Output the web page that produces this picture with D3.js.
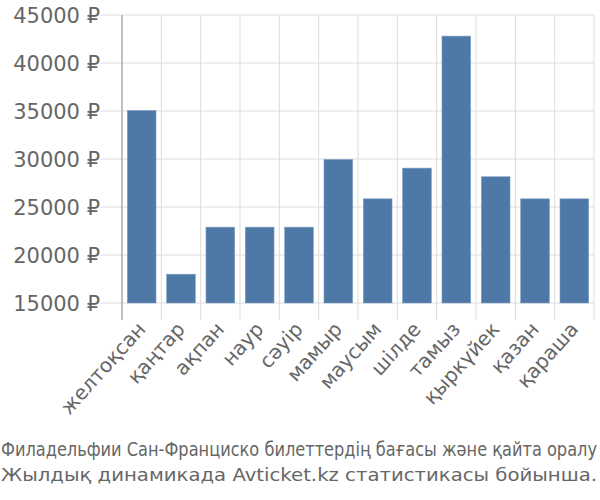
<!DOCTYPE html>
<html><head><meta charset="utf-8">
<script src="https://cdn.jsdelivr.net/npm/d3@7"></script>
<style>body{margin:0;background:#fff}text{font-family:"DejaVu Sans",sans-serif;fill:#666}</style>
</head><body><svg id="c" width="600" height="500"></svg>
<script>
const months = ["желтоқсан","қаңтар","ақпан","наур","сәуір","мамыр","маусым","шілде","тамыз","қыркүйек","қазан","қараша"];
const prices = [35050, 18000, 22900, 22900, 22900, 29950, 25850, 29050, 42800, 28150, 25850, 25850];
const yTicks = [15000, 20000, 25000, 30000, 35000, 40000, 45000];
const titleLines = ["Филадельфии Сан-Франциско билеттердің бағасы және қайта оралу", "Жылдық динамикада Avticket.kz статистикасы бойынша."];

const svg = d3.select("#c");
const mL = 122, mR = 594, mT = 15, mB = 303;
const x = d3.scaleBand().domain(months).range([mL, mR]).paddingInner(0.27).paddingOuter(0.135);
const slot = d3.scaleBand().domain(months).range([mL, mR]).padding(0);
const y = d3.scaleLinear().domain([15000, 45000]).range([mB, mT]);

// horizontal grid
svg.append("g").selectAll("line").data(yTicks).join("line")
  .attr("x1", 100).attr("x2", mR).attr("y1", d => y(d)).attr("y2", d => y(d))
  .attr("stroke", "#ddd").attr("stroke-width", 1);
// vertical grid
const vx = months.map(m => slot(m)).concat([mR]);
svg.append("g").selectAll("line").data(vx.slice(1)).join("line")
  .attr("x1", d => d).attr("x2", d => d).attr("y1", mT).attr("y2", 320)
  .attr("stroke", "#ddd").attr("stroke-width", 1);
// y axis line
svg.append("line").attr("x1", mL).attr("x2", mL).attr("y1", mT).attr("y2", 320)
  .attr("stroke", "#aaa").attr("stroke-width", 1.5);

// bars
svg.append("g").selectAll("rect").data(prices).join("rect")
  .attr("x", (d, i) => x(months[i]))
  .attr("width", x.bandwidth())
  .attr("y", d => y(d))
  .attr("height", d => y(15000) - y(d))
  .attr("fill", "#4e79a7")
  .attr("stroke", "#7f9fc4").attr("stroke-width", 0.6);

// y labels
svg.append("g").selectAll("text").data(yTicks).join("text")
  .attr("x", 100).attr("y", d => y(d)).attr("dy", "0.36em")
  .attr("text-anchor", "end").style("font-size", "21px")
  .text(d => d + " ₽");

// x labels
svg.append("g").selectAll("text").data(months).join("text")
  .attr("transform", m => `translate(${slot(m) + slot.bandwidth() / 2 + 5},330) rotate(-48)`)
  .attr("text-anchor", "end").style("font-size", "20px")
  .text(m => m);

// footer
svg.append("text").attr("x", 1).attr("y", 456).style("font-size", "20px")
  .style("font-family", "'DejaVu Sans Condensed','DejaVu Sans',sans-serif")
  .attr("textLength", 596).attr("lengthAdjust", "spacingAndGlyphs").text(titleLines[0]);
svg.append("text").attr("x", 1).attr("y", 481).style("font-size", "17px")
  .attr("textLength", 596).attr("lengthAdjust", "spacingAndGlyphs").text(titleLines[1]);
</script></body></html>
